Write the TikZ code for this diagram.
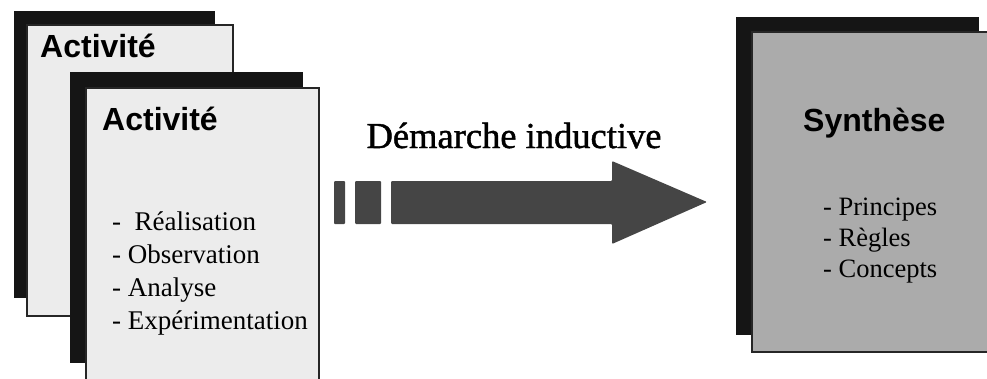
\documentclass[tikz,border=0pt]{standalone}
\usepackage{fontspec}
\setmainfont{Liberation Serif}
\newfontfamily\headfont{Liberation Sans}
\newfontfamily\labfont[FakeBold=1.2]{Liberation Serif}
\definecolor{shadowc}{HTML}{151515}
\definecolor{cardc}{HTML}{ECECEC}
\definecolor{synthc}{HTML}{ABABAB}
\definecolor{arrowc}{HTML}{454545}
\begin{document}
\begin{tikzpicture}[x=1pt,y=1pt,
  shadowbox/.style={fill=shadowc, draw=none, anchor=north west, inner sep=0pt, outer sep=0pt},
  cardbox/.style={fill=cardc, draw=black!85, line width=1.3pt, anchor=north west, inner sep=0pt, outer sep=0pt},
  synthbox/.style={cardbox, fill=synthc},
  title/.style={font=\headfont\bfseries\fontsize{32}{38}\selectfont, anchor=base west, inner sep=0pt},
  item/.style={font=\fontsize{27}{32}\selectfont, anchor=base west, inner sep=0pt},
  sitem/.style={font=\fontsize{26.5}{31}\selectfont, anchor=base west, inner sep=0pt},
  arrowpart/.style={fill=arrowc, draw=none, rounded corners=1pt},
  lbl/.style={font=\labfont\fontsize{36.5}{44}\selectfont, anchor=base, inner sep=0pt}]
\useasboundingbox (0,0) rectangle (987,-378);
\clip (0,0) rectangle (987,-378);
% card 1
\node[shadowbox, minimum width=201pt, minimum height=287pt] (s1) at (14,-11) {};
\node[cardbox, minimum width=206pt, minimum height=291pt] (c1) at (27,-25) {};
\node[title] (t1) at (40,-57) {Activité};
% card 2
\node[shadowbox, minimum width=233pt, minimum height=291pt] (s2) at (70,-72) {};
\node[cardbox, minimum width=233pt, minimum height=302pt] (c2) at (86,-88) {};
\node[title] (t2) at (102,-130) {Activité};
\node[item] (i1) at (112,-230) {-\ \ Réalisation};
\node[item] (i2) at (112,-263) {- Observation};
\node[item] (i3) at (112,-296) {- Analyse};
\node[item] (i4) at (112,-329) {- Expérimentation};
% arrow
\node[lbl] (lab) at (514,-148) {Démarche inductive};
\fill[arrowpart] (334,-181) rectangle (345,-224);
\fill[arrowpart] (355,-181) rectangle (381,-224);
\fill[arrowpart] (391,-181) -- (612,-181) -- (612,-161) -- (707,-202) -- (612,-244) -- (612,-224) -- (391,-224) -- cycle;
% card 3
\node[shadowbox, minimum width=243pt, minimum height=318pt] (s3) at (736,-17) {};
\node[synthbox, minimum width=243pt, minimum height=320pt] (c3) at (752,-32) {};
\node[title] (t3) at (803,-131) {Synthèse};
\node[sitem] (j1) at (823,-215) {- Principes};
\node[sitem] (j2) at (823,-246) {- Règles};
\node[sitem] (j3) at (823,-277) {- Concepts};
\end{tikzpicture}
\end{document}
